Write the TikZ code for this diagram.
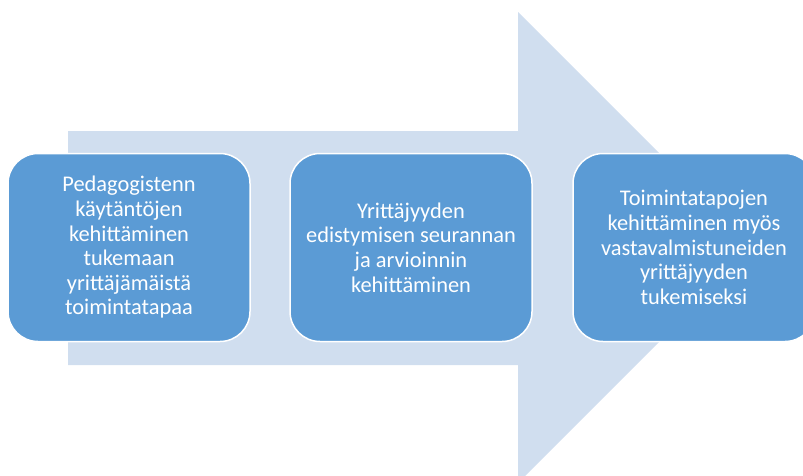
\documentclass[tikz,border=0pt]{standalone}
\usepackage{fontspec}
\setmainfont{Carlito}
\definecolor{arrowblue}{HTML}{D0DEEF}
\definecolor{boxblue}{HTML}{5B9BD5}
\begin{document}
\begin{tikzpicture}[x=1pt,y=-1pt,
  stepbox/.style={draw=white, line width=1.5pt, fill=boxblue, rounded corners=30pt,
    minimum width=242pt, minimum height=188pt, text=white, align=center, inner sep=0pt,
    font=\fontsize{22.4}{24.6}\selectfont}]
\useasboundingbox (0,0) rectangle (803,475);
\clip (0,0) rectangle (803,475);
\fill[arrowblue] (68,131) -- (518,131) -- (518,12) -- (753.5,247.5) -- (518,483) -- (518,365) -- (68,365) -- cycle;
\node[stepbox] (b1) at (129,247.5) {Pedagogistenn\\käytäntöjen\\kehittäminen\\tukemaan\\yrittäjämäistä\\toimintatapaa};
\node[stepbox] (b2) at (411,247.5) {Yrittäjyyden\\edistymisen seurannan\\ja arvioinnin\\kehittäminen};
\node[stepbox] (b3) at (694,247.5) {Toimintatapojen\\kehittäminen myös\\vastavalmistuneiden\\yrittäjyyden\\tukemiseksi};
\end{tikzpicture}
\end{document}
